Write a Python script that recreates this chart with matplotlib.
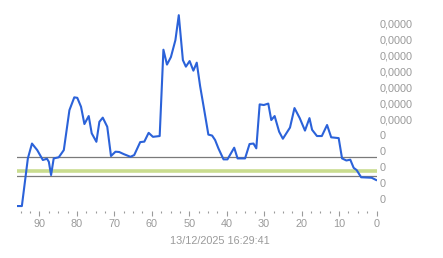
import matplotlib
matplotlib.use("Agg")
import matplotlib.pyplot as plt
from matplotlib.ticker import MultipleLocator, FixedLocator

# minutes ago (x) and value (in tick units)
minutes = [96, 94.7, 93.1, 92, 90.6, 89.1, 88, 87.5, 86.9, 86.2, 84.85, 83.5, 82, 80.7, 79.9,
           78.9, 78, 76.85, 76.05, 74.8, 74, 73.1, 71.9, 70.9, 69.7, 68.7, 67.5, 65.7, 64.7,
           63.1, 62, 60.85, 59.7, 57.9, 56.9, 55.95, 54.9, 53.7, 52.8, 51.7, 50.9, 49.9, 48.9,
           48, 47.1, 46, 44.9, 43.9, 43.1, 42.2, 40.85, 39.8, 38, 37.1, 35.1, 33.9, 32.85, 32.1,
           31.2, 30.1, 28.9, 28.1, 27.2, 26, 25, 23.1, 21.9, 20.5, 19.1, 17.9, 17.2, 15.9, 14.6,
           13.2, 12.1, 10.1, 9.2, 8.05, 7, 6.1, 5.3, 4.1, 1.3, 0.1]
values = [-0.44, -0.44, 2.54, 3.47, 3.06, 2.44, 2.52, 2.33, 1.5, 2.54, 2.61, 3.06, 5.56, 6.36, 6.33,
          5.77, 4.69, 5.19, 4.11, 3.58, 4.83, 5.09, 4.52, 2.69, 2.96, 2.94, 2.81, 2.64, 2.75,
          3.56, 3.59, 4.14, 3.89, 3.94, 9.34, 8.41, 8.88, 9.94, 11.5, 8.69, 8.28, 8.63, 8.03,
          8.53, 7.06, 5.56, 4.03, 3.97, 3.69, 3.16, 2.48, 2.48, 3.21, 2.54, 2.54, 3.44, 3.47, 3.17,
          5.92, 5.88, 5.97, 4.94, 5.19, 4.21, 3.77, 4.47, 5.69, 5.06, 4.28, 5.06, 4.33, 3.94, 3.94,
          4.63, 3.86, 3.81, 2.54, 2.41, 2.46, 1.95, 1.81, 1.36, 1.33, 1.19]

upper_level = 2.61
mid_level = 1.73
lower_level = 1.42

ytick_pos = list(range(12))
ytick_labels = ["0"] * 5 + ["0,0000"] * 7
xtick_major = [90, 80, 70, 60, 50, 40, 30, 20, 10, 0]
xlabel_text = "13/12/2025 16:29:41"

plt.rcParams['font.family'] = ['Liberation Sans', 'DejaVu Sans']

W, H = 443, 258
fig = plt.figure(figsize=(W / 100, H / 100), dpi=100)
ax = fig.add_axes([17 / W, 1 - 211 / H, (376.5 - 17) / W, (211 - 4) / H])

ax.axhline(upper_level, color="#7a7a7a", lw=0.9, zorder=2)
ax.axhline(lower_level, color="#7a7a7a", lw=0.9, zorder=2)
ax.axhline(mid_level, color="#c9dc8e", lw=2.6, zorder=2)
ax.plot(minutes, values, color="#2b62d9", lw=1.5, zorder=3, solid_joinstyle="round")

ax.set_xlim(96, 0)
ax.set_ylim(-0.75, 12.2)

for s in ax.spines.values():
    s.set_visible(False)

ax.xaxis.set_major_locator(FixedLocator(xtick_major))
ax.xaxis.set_minor_locator(MultipleLocator(2.5))
ax.tick_params(axis="x", which="major", length=3.5, width=0.8, color="#9a9a9a",
               labelsize=7.8, labelcolor="#9a9a9a", pad=2.5)
ax.tick_params(axis="x", which="minor", length=1.5, width=0.8, color="#9a9a9a")

ax.yaxis.set_major_locator(FixedLocator(ytick_pos))
ax.set_yticklabels(ytick_labels)
ax.yaxis.tick_right()
ax.tick_params(axis="y", length=0, labelsize=7.8, labelcolor="#9a9a9a", pad=2.5)
for lbl in ax.get_yticklabels():
    lbl.set_horizontalalignment("left")

fig.text(219.5 / W, 1 - 241 / H, xlabel_text, ha="center", va="center",
         fontsize=7.8, color="#9a9a9a")

fig.savefig("out.png", dpi=100)
